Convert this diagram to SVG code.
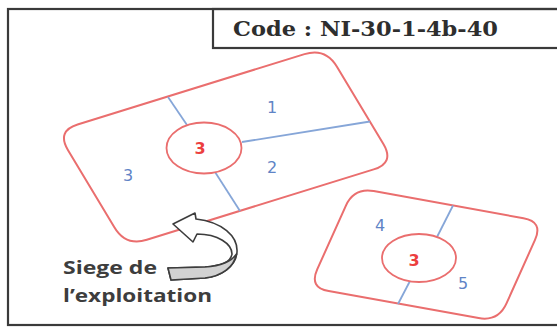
<svg xmlns="http://www.w3.org/2000/svg" width="557" height="329" viewBox="0 0 557 329">
  <style>
    .frame { fill: none; stroke: #3a3a3a; stroke-width: 2.2; }
    .parcel { fill: none; stroke: #ea6e6e; stroke-width: 2; stroke-linejoin: round; }
    .siege { fill: #ffffff; stroke: #ea6e6e; stroke-width: 1.8; }
    .div { stroke: #86a6d8; stroke-width: 1.8; fill: none; }
    .num { font-family: "DejaVu Sans", "Liberation Sans", sans-serif; font-size: 16px; fill: #5f84c6; text-anchor: middle; }
    .num-red { font-family: "DejaVu Sans", "Liberation Sans", sans-serif; font-size: 16px; font-weight: bold; fill: #ec3f3f; text-anchor: middle; }
    .label { font-family: "Open Sans", "Liberation Sans", sans-serif; font-size: 17px; font-weight: bold; fill: #3d3d3d; }
    .arrow { fill: #ffffff; stroke: #3d3d3d; stroke-width: 1.6; stroke-linejoin: round; }
    .band { fill: #d2d2d2; stroke: #3d3d3d; stroke-width: 1.6; stroke-linejoin: round; }
  </style>

  <g id="frame">
    <rect class="frame" x="8" y="9" width="560" height="316"/>
  </g>

  <g id="code-label">
    <rect class="frame" x="213" y="9" width="360" height="39" fill="#ffffff"/>
    <text x="233" y="36" font-family="DejaVu Serif, Liberation Serif, serif" font-size="20.5" font-weight="bold" fill="#2e2e2e" textLength="265" lengthAdjust="spacingAndGlyphs">Code : NI-30-1-4b-40</text>
  </g>

  <g id="parcel-1">
    <path class="parcel" d="M77.6,124.5 L304.5,54.1 Q325.5,47.6 336.8,66.5 L383.4,144 Q394.7,162.9 373.7,169.4 L146.8,239.8 Q125.8,246.3 114.5,227.4 L67.9,149.9 Q56.6,131 77.6,124.5 Z"/>
    <line class="div" x1="168" y1="97" x2="187" y2="125"/>
    <line class="div" x1="242" y1="142" x2="370" y2="121.5"/>
    <line class="div" x1="215" y1="172" x2="240" y2="211"/>
    <ellipse class="siege" cx="204" cy="148" rx="37.5" ry="25.5"/>
    <text class="num-red" x="200" y="154">3</text>
    <text class="num" x="272" y="113">1</text>
    <text class="num" x="272" y="173">2</text>
    <text class="num" x="128" y="181">3</text>
  </g>

  <g id="parcel-2">
    <path class="parcel" d="M373.7,191.1 L523.5,218.2 Q543.2,221.7 535,239.9 L506.5,303.4 Q498.3,321.6 478.6,318.1 L328.7,291.1 Q309,287.6 317.2,269.4 L345.8,205.8 Q354,187.6 373.7,191.1 Z"/>
    <line class="div" x1="437" y1="237" x2="453" y2="205.5"/>
    <line class="div" x1="410" y1="281" x2="398" y2="304"/>
    <ellipse class="siege" cx="419" cy="258" rx="37" ry="24"/>
    <text class="num-red" x="414" y="266">3</text>
    <text class="num" x="380" y="231">4</text>
    <text class="num" x="463" y="289">5</text>
  </g>

  <g id="connectors">
    <g id="siege-arrow">
      <path class="arrow" d="M173,224 L195,213 L196,219 C222,222 238,236 237,252 C236,266 222,276 205,278 L171,280 L168,268 L205,267 C220,266 231,262 232,254 C232,244 218,234 197,234 L193,242 Z"/>
      <path class="band" d="M168,268 L205,267 C220,266 231,262 236.5,254 C234,267 222,276 205,278 L171,280 Z"/>
    </g>
  </g>

  <g id="siege-label">
    <text class="label" x="63" y="274" textLength="94" lengthAdjust="spacingAndGlyphs">Siege de</text>
    <text class="label" x="63" y="302" textLength="149" lengthAdjust="spacingAndGlyphs">l’exploitation</text>
  </g>
</svg>
